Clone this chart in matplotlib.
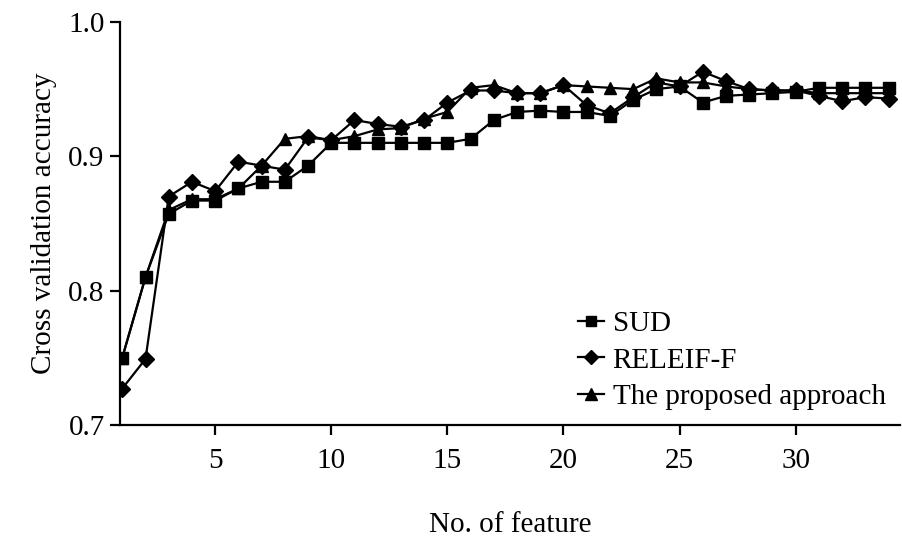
import numpy as np
import matplotlib.pyplot as plt

plt.rcParams['font.family'] = ['Liberation Serif', 'DejaVu Serif']

# Number of selected features
features = np.arange(1, 35)

# Cross validation accuracy per method
sud = [0.750, 0.810, 0.857, 0.867, 0.867, 0.876, 0.881, 0.881, 0.893, 0.910,
       0.910, 0.910, 0.910, 0.910, 0.910, 0.913, 0.927, 0.933, 0.934, 0.933,
       0.933, 0.930, 0.942, 0.950, 0.952, 0.940, 0.945, 0.946, 0.947, 0.948,
       0.951, 0.951, 0.951, 0.951]
releif_f = [0.727, 0.749, 0.870, 0.881, 0.874, 0.896, 0.893, 0.890, 0.914, 0.912,
            0.927, 0.924, 0.922, 0.927, 0.940, 0.949, 0.949, 0.947, 0.947, 0.953,
            0.938, 0.932, 0.944, 0.955, 0.952, 0.963, 0.956, 0.950, 0.949, 0.949,
            0.945, 0.941, 0.944, 0.943]
proposed = [0.750, 0.810, 0.860, 0.868, 0.868, 0.876, 0.893, 0.913, 0.915, 0.912,
            0.915, 0.920, 0.921, 0.928, 0.933, 0.951, 0.953, 0.947, 0.947, 0.953,
            0.952, 0.951, 0.950, 0.958, 0.955, 0.955, 0.952, 0.950, 0.949, 0.949,
            0.947, 0.947, 0.947, 0.947]

fig = plt.figure(figsize=(9.02, 5.37), dpi=100)
ax = fig.add_axes([0.133, 0.209, 0.865, 0.750])

ax.plot(features, sud, marker='s', markersize=8, color='black',
        linewidth=1.6, label='SUD')
ax.plot(features, releif_f, marker='D', markersize=8, color='black',
        linewidth=1.6, label='RELEIF-F')
ax.plot(features, proposed, marker='^', markersize=9, color='black',
        linewidth=1.6, label='The proposed approach')

ax.set_xlim(0.9, 34.5)
ax.set_ylim(0.7, 1.0)
ax.set_xticks([5, 10, 15, 20, 25, 30])
ax.set_yticks([0.7, 0.8, 0.9, 1.0])
ax.set_yticklabels(['0.7', '0.8', '0.9', '1.0'])

ax.spines['top'].set_visible(False)
ax.spines['right'].set_visible(False)
ax.spines['left'].set_linewidth(1.6)
ax.spines['bottom'].set_linewidth(1.6)
ax.tick_params(direction='out', length=7, width=1.6, labelsize=21, pad=4)
ax.tick_params(axis='x', pad=10)

ax.set_xlabel('No. of feature', fontsize=21, labelpad=27)
ax.set_ylabel('Cross validation accuracy', fontsize=21, labelpad=8)

ax.legend(loc='lower right', frameon=False, fontsize=21, handlelength=0.9,
          handletextpad=0.3, labelspacing=0.35, borderaxespad=0.1,
          markerscale=0.9)

fig.savefig('out.png', dpi=100)
